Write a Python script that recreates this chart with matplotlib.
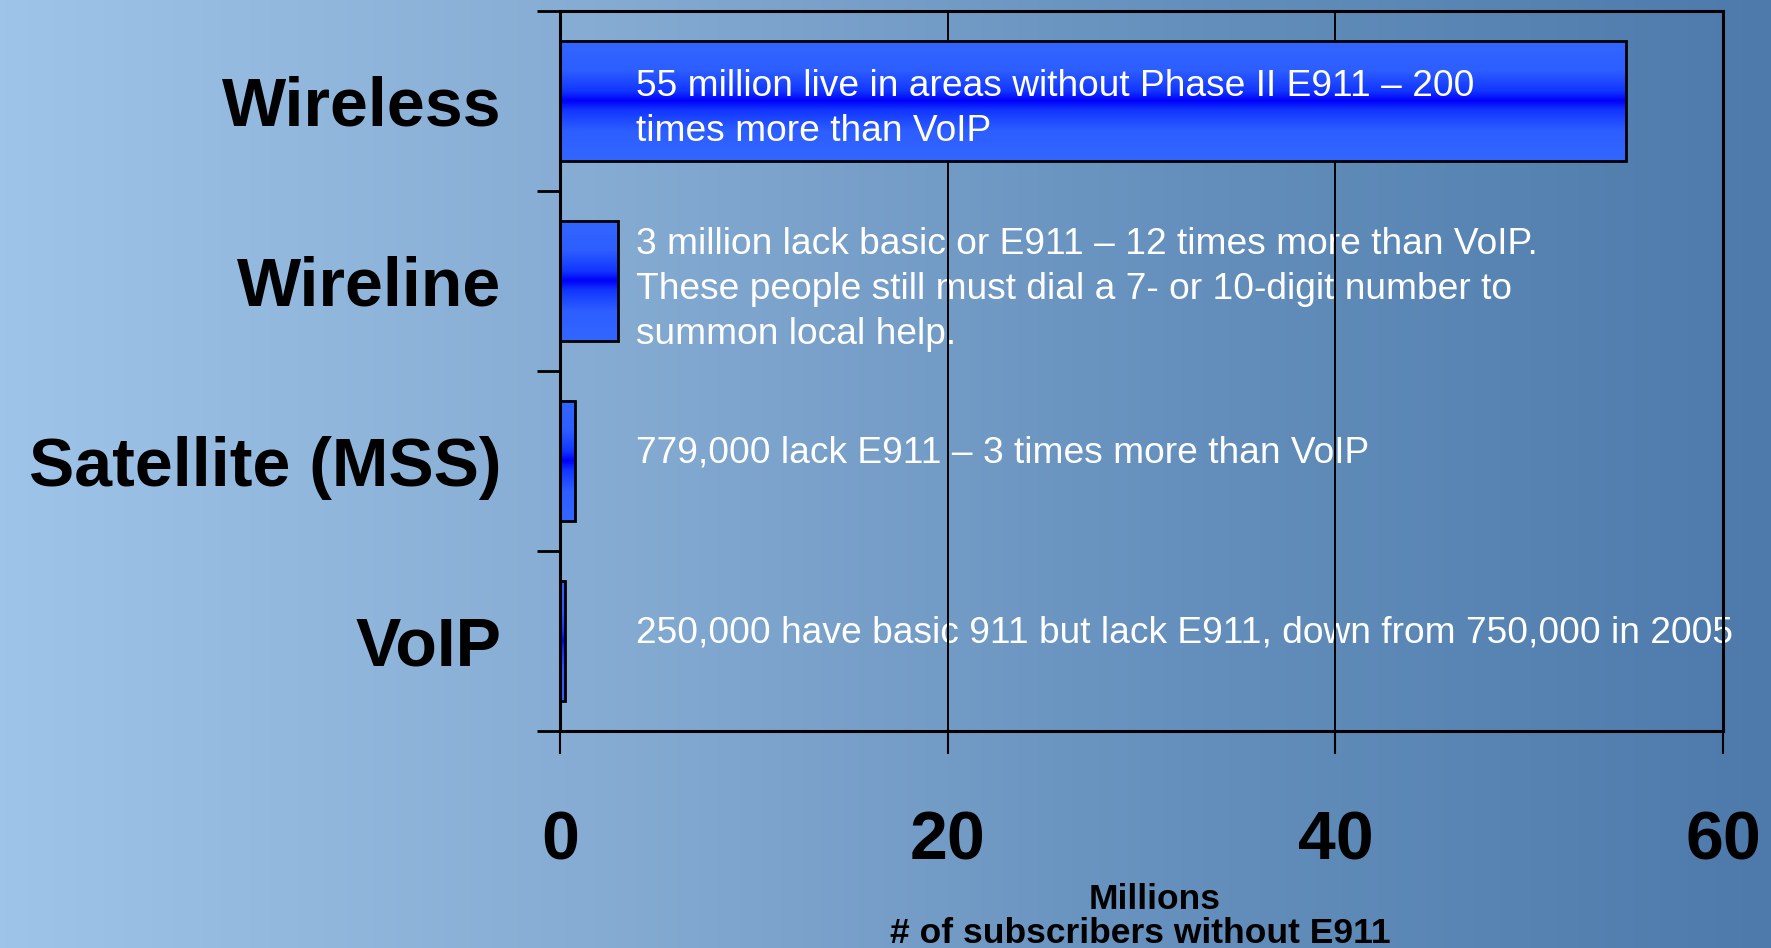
import numpy as np
import matplotlib.pyplot as plt
from matplotlib.colors import LinearSegmentedColormap

plt.rcParams['font.family'] = ['Liberation Sans', 'DejaVu Sans']

categories = ['Wireless', 'Wireline', 'Satellite (MSS)', 'VoIP']
subscribers = [55, 3, 0.779, 0.25]   # millions without E911
notes = [
    '55 million live in areas without Phase II E911 \u2013 200\ntimes more than VoIP',
    '3 million lack basic or E911 \u2013 12 times more than VoIP.\n'
    'These people still must dial a 7- or 10-digit number to\nsummon local help.',
    '779,000 lack E911 \u2013 3 times more than VoIP',
    '250,000 have basic 911 but lack E911, down from 750,000 in 2005',
]
x_ticks = [0, 20, 40, 60]

W, H = 1771, 948
fig = plt.figure(figsize=(W / 100, H / 100), dpi=100)

# background gradient (light blue left -> darker blue right)
bg = fig.add_axes([0, 0, 1, 1], zorder=-10)
bg_cmap = LinearSegmentedColormap.from_list('bg', ['#9fc4e9', '#86acd3', '#6590bd', '#4d7aab'])
bg.imshow(np.linspace(0, 1, 512)[None, :], cmap=bg_cmap, aspect='auto', extent=(0, 1, 0, 1))
bg.axis('off')

ax = fig.add_axes([560 / W, 1 - 731 / H, (1723 - 560) / W, (731 - 11) / H])
ax.patch.set_alpha(0)

bar_cmap = LinearSegmentedColormap.from_list(
    'bar', [(0, '#3366ff'), (0.25, '#2d5eff'), (0.42, '#1236ff'), (0.5, '#0000f8'),
            (0.58, '#1236ff'), (0.75, '#2d5eff'), (1, '#3366ff')])
grad = np.linspace(0, 1, 256)[:, None]
ypos = np.arange(len(categories))
bh = 0.667

for y, v in zip(ypos, subscribers):
    ax.imshow(grad, cmap=bar_cmap, aspect='auto', extent=(0, v, y + bh / 2, y - bh / 2),
              zorder=3, interpolation='bilinear')
ax.barh(ypos, subscribers, height=bh, facecolor='none', edgecolor='black', linewidth=2, zorder=3.1)

ax.set_xlim(0, 60)
ax.set_ylim(len(categories) - 0.5, -0.5)

# notes, line by line
text_x = 3.9
line_px = 45
for y, v, note in zip(ypos, subscribers, notes):
    lines = note.split('\n')
    n = len(lines)
    shift = 18 if n > 1 else 1.5
    z = 4 if v > text_x else 2
    for k, line in enumerate(lines):
        dy = shift + (k - (n - 1) / 2) * line_px
        ax.annotate(line, xy=(text_x, y), xytext=(0, -dy), textcoords='offset pixels',
                    ha='left', va='baseline', color='white', fontsize=26.7, zorder=z,
                    annotation_clip=False)

# axes styling
for s in ax.spines.values():
    s.set_linewidth(2.2)
    s.set_zorder(5)
ax.set_xticks(x_ticks)
ax.set_xticklabels([str(t) for t in x_ticks], fontsize=49, fontweight='bold')
ax.tick_params(axis='x', direction='out', length=16.5, width=1.5, pad=40)
ax.grid(axis='x', color='black', linewidth=1.4, zorder=2.5)
ax.set_axisbelow(False)

ax.set_yticks(np.arange(len(categories) + 1) - 0.5)
ax.set_yticklabels([])
ax.tick_params(axis='y', which='major', direction='out', length=16.5, width=2)
ax.set_yticks(ypos, minor=True)
ax.set_yticklabels(categories, minor=True, fontsize=49, fontweight='bold')
ax.tick_params(axis='y', which='minor', length=0, pad=42)

fig.text(1155 / W, 1 - 909 / H, 'Millions', ha='center', va='baseline',
         fontsize=25.5, fontweight='bold')
fig.text(1140 / W, 1 - 943 / H, '# of subscribers without E911', ha='center', va='baseline',
         fontsize=25.5, fontweight='bold')

fig.savefig('out.png', dpi=100)
